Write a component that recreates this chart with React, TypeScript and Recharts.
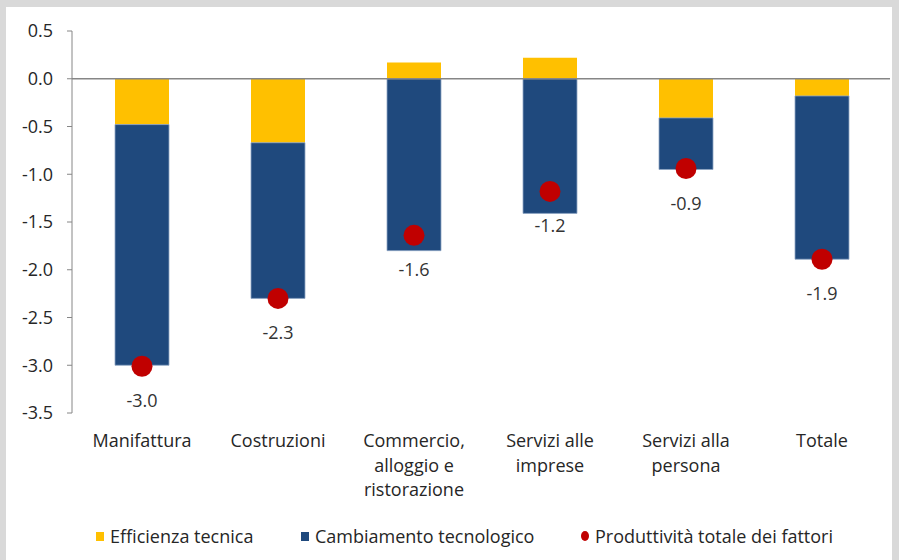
import React from 'react';
import { ComposedChart, Bar, Line, XAxis, YAxis, ReferenceLine, LabelList } from 'recharts';

const categories = [
  'Manifattura',
  'Costruzioni',
  'Commercio,\nalloggio e\nristorazione',
  'Servizi alle\nimprese',
  'Servizi alla\npersona',
  'Totale',
];
const efficienza = [-0.48, -0.67, 0.17, 0.22, -0.41, -0.18];
const cambiamento = [-2.52, -1.63, -1.8, -1.41, -0.54, -1.71];
const tfp = [-3.01, -2.3, -1.64, -1.18, -0.94, -1.89];
const yTicks = [0.5, 0, -0.5, -1, -1.5, -2, -2.5, -3, -3.5];
const seriesNames = ['Efficienza tecnica', 'Cambiamento tecnologico', 'Produttività totale dei fattori'];

const COL_Y = '#FFC000';
const COL_B = '#1F497D';
const COL_R = '#C00000';
const FONT = '"Open Sans", sans-serif';
const FS = 18;

const data = categories.map((c, i) => ({
  cat: c,
  eff: efficienza[i],
  tech: cambiamento[i],
  tfp: tfp[i],
}));

const CatTick = (props: any) => {
  const { x, y, payload } = props;
  const lines = String(payload.value).split('\n');
  return (
    <text x={x} y={y} textAnchor="middle" fill="#262626" fontSize={FS} fontFamily={FONT}>
      {lines.map((l: string, i: number) => (
        <tspan key={i} x={x} dy={i === 0 ? 34 : 24.5}>
          {l}
        </tspan>
      ))}
    </text>
  );
};

const DotLabel = (props: any) => {
  const { x, y, value } = props;
  return (
    <text x={x} y={y + 41} textAnchor="middle" fill="#333333" fontSize={FS} fontFamily={FONT}>
      {Number(value).toFixed(1)}
    </text>
  );
};

const legendLeft = [96, 301, 581];
const legendColors = [COL_Y, COL_B, COL_R];

const LegendBlock = () => (
  <div style={{ position: 'absolute', left: 0, top: 524, width: 899, height: 24, fontFamily: FONT, fontSize: FS, color: '#262626' }}>
    {seriesNames.map((n, i) => (
      <div
        key={n}
        style={{
          position: 'absolute',
          left: legendLeft[i],
          top: 0,
          display: 'flex',
          alignItems: 'center',
          whiteSpace: 'nowrap',
          lineHeight: '24px',
        }}
      >
        <span
          style={{
            display: 'inline-block',
            width: 8,
            height: i === 2 ? 10 : 9,
            background: legendColors[i],
            borderRadius: i === 2 ? '50%' : 0,
            marginRight: 6,
          }}
        />
        <span>{n}</span>
      </div>
    ))}
  </div>
);

export default function App() {
  return (
    <div style={{ position: 'absolute', left: 0, top: 0, width: 899, height: 560, background: '#D9D9D9', overflow: 'hidden' }}>
      <div style={{ position: 'absolute', left: 6, top: 7, width: 886, height: 553, background: '#FFFFFF' }} />
      <div style={{ position: 'absolute', left: 0, top: 0 }}>
        <ComposedChart
          width={899}
          height={560}
          data={data}
          stackOffset="sign"
          margin={{ top: 31, right: 9, bottom: 47, left: 0 }}
        >
          <XAxis
            dataKey="cat"
            axisLine={false}
            tickLine={false}
            tickSize={0}
            tickMargin={0}
            interval={0}
            height={100}
            padding={{ left: 2, right: 0 }}
            tick={<CatTick />}
          />
          <YAxis
            width={72}
            domain={[-3.5, 0.5]}
            ticks={yTicks}
            interval={0}
            tickFormatter={(v: number) => v.toFixed(1)}
            axisLine={{ stroke: '#868686' }}
            tickLine={{ stroke: '#868686' }}
            tickSize={5}
            tickMargin={14}
            tick={{ fill: '#262626', fontSize: FS, fontFamily: FONT }}
          />
          <Bar dataKey="eff" stackId="s" fill={COL_Y} barSize={54} isAnimationActive={false} />
          <Bar dataKey="tech" stackId="s" fill={COL_B} stroke="#8FA6C4" strokeWidth={0.8} barSize={54} isAnimationActive={false} />
          <ReferenceLine y={0} stroke="#868686" strokeWidth={1.3} />
          <Line
            dataKey="tfp"
            stroke="none"
            dot={{ r: 10.5, fill: COL_R, stroke: 'none' }}
            activeDot={false}
            isAnimationActive={false}
          >
            <LabelList dataKey="tfp" content={<DotLabel />} />
          </Line>
        </ComposedChart>
      </div>
      <LegendBlock />
    </div>
  );
}
